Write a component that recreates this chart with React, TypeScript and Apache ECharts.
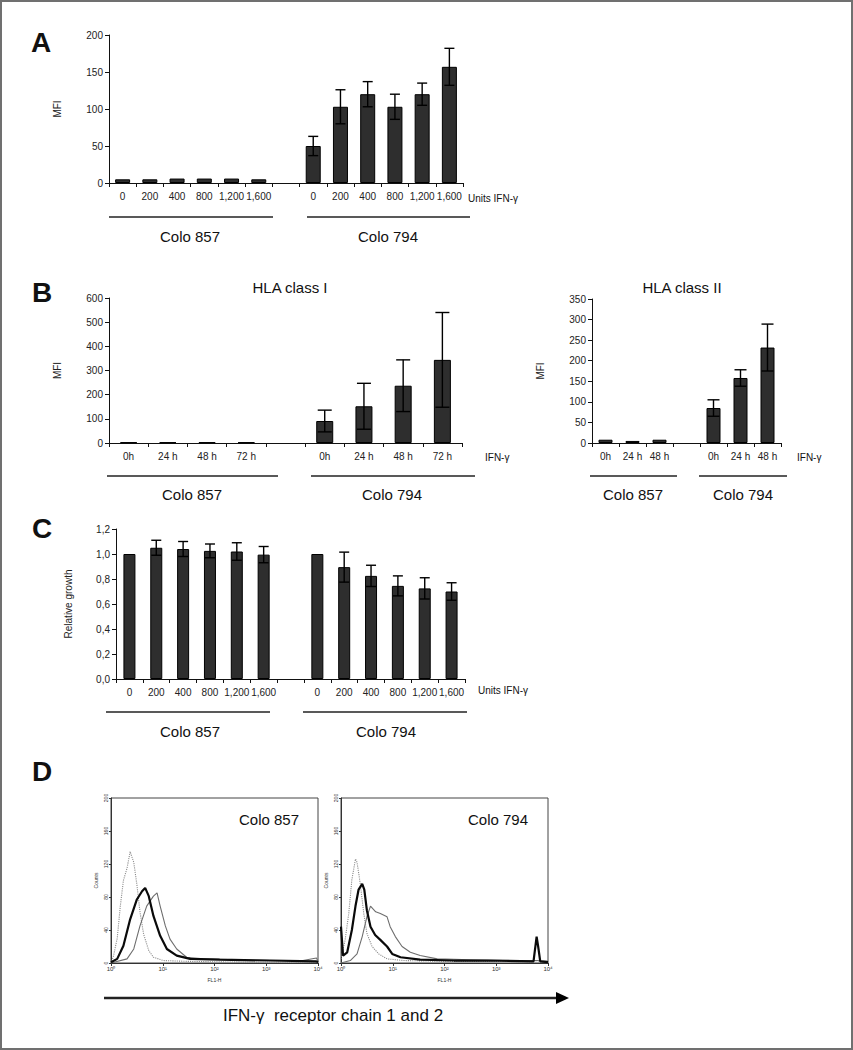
import React, { useEffect, useRef } from "react";
import * as echarts from "echarts";

const FONT = '"Liberation Sans", Arial, Helvetica, sans-serif';

// ---- Panel A: MFI vs IFN-γ dose ----
const doseLabels = ["0", "200", "400", "800", "1,200", "1,600"];
const mfiA857 = [5, 5, 6, 6, 6, 5];
const errA857 = [0, 0, 0, 0, 0, 0];
const mfiA794 = [50, 103, 120, 103, 120, 157];
const errA794 = [13, 23, 17, 17, 15, 25];

// ---- Panel B: HLA class I / II vs time ----
const timeLabels4 = ["0h", "24 h", "48 h", "72 h"];
const timeLabels3 = ["0h", "24 h", "48 h"];
const hla1_857 = [3, 3, 3, 3];
const hla1Err857 = [0, 0, 0, 0];
const hla1_794 = [91, 152, 237, 344];
const hla1Err794 = [45, 95, 107, 196];
const hla2_857 = [8, 5, 8];
const hla2Err857 = [0, 0, 0];
const hla2_794 = [85, 158, 232];
const hla2Err794 = [20, 20, 57];

// ---- Panel C: relative growth ----
const growth857 = [1.0, 1.05, 1.04, 1.025, 1.02, 0.995];
const growthErr857 = [0, 0.06, 0.06, 0.055, 0.07, 0.065];
const growth794 = [1.0, 0.895, 0.825, 0.745, 0.725, 0.7];
const growthErr794 = [0, 0.12, 0.085, 0.08, 0.085, 0.07];

// ---- Panel D: flow cytometry histograms [log10(FL1-H), counts] ----
const isoColo857 = [[0, 0], [0.05, 9], [0.12, 30], [0.18, 69], [0.24, 100], [0.31, 115], [0.37, 135], [0.44, 122], [0.5, 95], [0.56, 62], [0.63, 35], [0.73, 15], [0.82, 7], [1.01, 3], [1.46, 2], [2.5, 1], [3.5, 1], [4, 1]];
const ifnColo857 = [[0, 1], [0.12, 5], [0.24, 21], [0.37, 53], [0.5, 77], [0.6, 87], [0.66, 91], [0.73, 81], [0.82, 57], [0.95, 33], [1.08, 17], [1.27, 9], [1.53, 5], [2.1, 4], [3.07, 3], [3.97, 2], [4, 1]];
const recColo857 = [[0, 0], [0.31, 5], [0.44, 17], [0.56, 45], [0.69, 69], [0.82, 81], [0.89, 85], [0.95, 69], [1.05, 45], [1.14, 29], [1.27, 17], [1.46, 7], [1.78, 5], [2.43, 4], [3.07, 3], [3.71, 3], [3.97, 6], [4, 2]];
const isoColo794 = [[0, 5], [0.08, 28], [0.15, 60], [0.21, 101], [0.28, 126], [0.31, 122], [0.37, 97], [0.44, 60], [0.5, 36], [0.6, 20], [0.73, 11], [0.89, 5], [1.21, 3], [2, 2], [3, 2], [4, 1]];
const ifnColo794 = [[0, 44], [0.04, 9], [0.12, 13], [0.21, 40], [0.28, 69], [0.34, 89], [0.41, 96], [0.45, 89], [0.5, 64], [0.57, 44], [0.66, 34], [0.76, 28], [0.89, 20], [0.99, 11], [1.15, 7], [1.53, 4], [2.18, 3], [2.82, 3], [3.72, 2], [3.78, 32], [3.81, 20], [3.85, 2], [4, 1]];
const recColo794 = [[0, 0], [0.18, 3], [0.31, 11], [0.41, 32], [0.5, 56], [0.57, 69], [0.67, 62], [0.76, 60], [0.89, 56], [0.95, 44], [1.05, 32], [1.18, 20], [1.34, 13], [1.53, 9], [1.86, 5], [2.5, 4], [3.14, 3], [3.79, 3], [4, 2]];

const histTicks = ["10\u2070", "10\u00b9", "10\u00b2", "10\u00b3", "10\u2074"];

function joinGroups<T>(a: T[], b: T[], gap: T): T[] {
  return [...a, gap, ...b];
}

function errData(vals: (number | null)[], errs: (number | null)[]) {
  const out: number[][] = [];
  vals.forEach((v, i) => {
    const e = errs[i];
    if (v != null && e != null && e > 0) out.push([i, v, e]);
  });
  return out;
}

function makeErrRender(cap: number) {
  return (params: any, api: any) => {
    const x = api.value(0);
    const y = api.value(1);
    const e = api.value(2);
    const top = api.coord([x, y + e]);
    const bot = api.coord([x, Math.max(0, y - e)]);
    const st = { stroke: "#000", lineWidth: 1.4 };
    return {
      type: "group",
      children: [
        { type: "line", shape: { x1: top[0], y1: top[1], x2: bot[0], y2: bot[1] }, style: st },
        { type: "line", shape: { x1: top[0] - cap, y1: top[1], x2: top[0] + cap, y2: top[1] }, style: st },
        { type: "line", shape: { x1: bot[0] - cap, y1: bot[1], x2: bot[0] + cap, y2: bot[1] }, style: st },
      ],
    };
  };
}

const axisLineStyle = { lineStyle: { color: "#111", width: 1 } };

function catXAxis(gridIndex: number, cats: string[]) {
  return {
    type: "category",
    gridIndex,
    data: cats,
    boundaryGap: true,
    axisLine: axisLineStyle,
    axisTick: { show: true, interval: 0, length: 4, lineStyle: { color: "#111" } },
    axisLabel: { interval: 0, fontSize: 10, color: "#222", fontFamily: FONT, margin: 8 },
    splitLine: { show: false },
  };
}

function valYAxis(gridIndex: number, max: number, interval: number, name: string, nameGap: number, fmt?: (v: number) => string) {
  return {
    type: "value",
    gridIndex,
    min: 0,
    max,
    interval,
    name,
    nameLocation: "middle",
    nameGap,
    nameRotate: 90,
    nameTextStyle: { fontSize: 10, color: "#222", fontFamily: FONT },
    axisLine: { show: true, ...axisLineStyle },
    axisTick: { show: true, length: 4, lineStyle: { color: "#111" } },
    axisLabel: { fontSize: 10, color: "#222", fontFamily: FONT, margin: 6, formatter: fmt },
    splitLine: { show: false },
  };
}

function barSeries(idx: number, data: (number | null)[], width: number) {
  return {
    type: "bar",
    xAxisIndex: idx,
    yAxisIndex: idx,
    data,
    barWidth: width,
    itemStyle: { color: "#2e2e2e", borderColor: "#000", borderWidth: 1 },
    silent: true,
  };
}

function errSeries(idx: number, data: number[][], cap: number) {
  return {
    type: "custom",
    xAxisIndex: idx,
    yAxisIndex: idx,
    data,
    encode: { x: 0, y: 1 },
    renderItem: makeErrRender(cap),
    silent: true,
    z: 5,
  };
}

function histX(gridIndex: number) {
  return {
    type: "value",
    gridIndex,
    min: 0,
    max: 4,
    interval: 1,
    name: "FL1-H",
    nameLocation: "middle",
    nameGap: 14,
    nameTextStyle: { fontSize: 5, color: "#333", fontFamily: FONT },
    axisLine: { lineStyle: { color: "#333", width: 1 } },
    axisTick: { show: true, length: 3, lineStyle: { color: "#333" } },
    axisLabel: { fontSize: 6, color: "#333", fontFamily: FONT, margin: 3, formatter: (v: number) => histTicks[v] },
    splitLine: { show: false },
  };
}

function histY(gridIndex: number) {
  return {
    type: "value",
    gridIndex,
    min: 0,
    max: 200,
    interval: 40,
    name: "Counts",
    nameLocation: "middle",
    nameGap: 13,
    nameRotate: 90,
    nameTextStyle: { fontSize: 5, color: "#333", fontFamily: FONT },
    axisLine: { show: true, lineStyle: { color: "#333", width: 1 } },
    axisTick: { show: true, length: 2, lineStyle: { color: "#333" } },
    axisLabel: { fontSize: 5, color: "#333", fontFamily: FONT, margin: 3, rotate: 90 },
    splitLine: { show: false },
  };
}

function histLine(idx: number, data: number[][], kind: "iso" | "ifn" | "rec") {
  const style =
    kind === "iso"
      ? { color: "#8a8a8a", width: 1.1, type: "dotted" }
      : kind === "ifn"
      ? { color: "#0a0a0a", width: 2.2, type: "solid" }
      : { color: "#6e6e6e", width: 1.1, type: "solid" };
  return {
    type: "line",
    xAxisIndex: idx,
    yAxisIndex: idx,
    data,
    showSymbol: false,
    symbol: "none",
    lineStyle: style,
    silent: true,
    z: kind === "ifn" ? 4 : 3,
  };
}

function txt(x: number, y: number, text: string, size: number, opts: any = {}) {
  return {
    type: "text",
    x,
    y,
    silent: true,
    style: {
      text,
      fontSize: size,
      fontFamily: FONT,
      fill: "#111",
      align: opts.align || "center",
      verticalAlign: "middle",
      fontWeight: opts.bold ? "bold" : "normal",
    },
  };
}

function hline(x1: number, x2: number, y: number, w = 1.5) {
  return { type: "line", silent: true, shape: { x1, y1: y, x2, y2: y }, style: { stroke: "#222", lineWidth: w } };
}

export default function App() {
  const ref = useRef<HTMLDivElement>(null);

  useEffect(() => {
    if (!ref.current) return;
    const chart = echarts.init(ref.current, null, { renderer: "svg" });

    const catsA = joinGroups(doseLabels, doseLabels, "");
    const catsB1 = joinGroups(timeLabels4, timeLabels4, "");
    const catsB2 = joinGroups(timeLabels3, timeLabels3, "");
    const catsC = joinGroups(doseLabels, doseLabels, "");

    const valsA = joinGroups<number | null>(mfiA857, mfiA794, null);
    const errsA = joinGroups<number | null>(errA857, errA794, null);
    const valsB1 = joinGroups<number | null>(hla1_857, hla1_794, null);
    const errsB1 = joinGroups<number | null>(hla1Err857, hla1Err794, null);
    const valsB2 = joinGroups<number | null>(hla2_857, hla2_794, null);
    const errsB2 = joinGroups<number | null>(hla2Err857, hla2Err794, null);
    const valsC = joinGroups<number | null>(growth857, growth794, null);
    const errsC = joinGroups<number | null>(growthErr857, growthErr794, null);

    const comma = (v: number) => v.toFixed(1).replace(".", ",");

    const option: any = {
      animation: false,
      backgroundColor: "#ffffff",
      grid: [
        { left: 109, top: 35, width: 354, height: 148 },
        { left: 109, top: 298, width: 353, height: 145 },
        { left: 592, top: 299, width: 189, height: 144 },
        { left: 116, top: 529, width: 349, height: 150 },
        { left: 111, top: 798, width: 207, height: 165, show: true, borderColor: "#444", borderWidth: 1 },
        { left: 341, top: 798, width: 207, height: 165, show: true, borderColor: "#444", borderWidth: 1 },
      ],
      xAxis: [catXAxis(0, catsA), catXAxis(1, catsB1), catXAxis(2, catsB2), catXAxis(3, catsC), histX(4), histX(5)],
      yAxis: [
        valYAxis(0, 200, 50, "MFI", 47),
        valYAxis(1, 600, 100, "MFI", 47),
        valYAxis(2, 350, 50, "MFI", 47),
        valYAxis(3, 1.2, 0.2, "Relative growth", 43, comma),
        histY(4),
        histY(5),
      ],
      series: [
        barSeries(0, valsA, 15),
        errSeries(0, errData(valsA, errsA), 5),
        barSeries(1, valsB1, 17),
        errSeries(1, errData(valsB1, errsB1), 7),
        barSeries(2, valsB2, 14),
        errSeries(2, errData(valsB2, errsB2), 6),
        barSeries(3, valsC, 12),
        errSeries(3, errData(valsC, errsC), 5),
        histLine(4, isoColo857, "iso"),
        histLine(4, recColo857, "rec"),
        histLine(4, ifnColo857, "ifn"),
        histLine(5, isoColo794, "iso"),
        histLine(5, recColo794, "rec"),
        histLine(5, ifnColo794, "ifn"),
      ],
      graphic: [
        { type: "rect", silent: true, shape: { x: 1, y: 1, width: 851, height: 1048 }, style: { fill: "none", stroke: "#707070", lineWidth: 2 } },
        // panel letters
        txt(41, 42, "A", 28, { bold: true }),
        txt(42, 292, "B", 28, { bold: true }),
        txt(42, 528, "C", 28, { bold: true }),
        txt(42, 771, "D", 28, { bold: true }),
        // Panel A
        txt(468, 198, "Units IFN-\u03b3", 10, { align: "left" }),
        hline(109, 273, 217),
        hline(307, 470, 217),
        txt(190, 236, "Colo 857", 15),
        txt(388, 236, "Colo 794", 15),
        // Panel B
        txt(290, 287, "HLA class I", 15),
        txt(682, 287, "HLA class II", 15),
        txt(485, 457, "IFN-\u03b3", 10, { align: "left" }),
        txt(797, 457, "IFN-\u03b3", 10, { align: "left" }),
        hline(107, 278, 476),
        hline(311, 475, 476),
        hline(590, 677, 476),
        hline(699, 787, 476),
        txt(192, 494, "Colo 857", 15),
        txt(392, 494, "Colo 794", 15),
        txt(633, 494, "Colo 857", 15),
        txt(743, 494, "Colo 794", 15),
        // Panel C
        txt(478, 690, "Units IFN-\u03b3", 10, { align: "left" }),
        hline(106, 270, 712),
        hline(303, 467, 712),
        txt(190, 731, "Colo 857", 15),
        txt(386, 731, "Colo 794", 15),
        // Panel D
        txt(269, 819, "Colo 857", 15),
        txt(498, 819, "Colo 794", 15),
        hline(104, 558, 998, 2.5),
        { type: "polygon", silent: true, shape: { points: [[556, 992], [569, 998], [556, 1004]] }, style: { fill: "#000" } },
        txt(333, 1015, "IFN-\u03b3  receptor chain 1 and 2", 17),
      ],
    };

    chart.setOption(option);
    return () => chart.dispose();
  }, []);

  return <div ref={ref} style={{ position: "absolute", left: 0, top: 0, width: 853, height: 1050 }} />;
}
